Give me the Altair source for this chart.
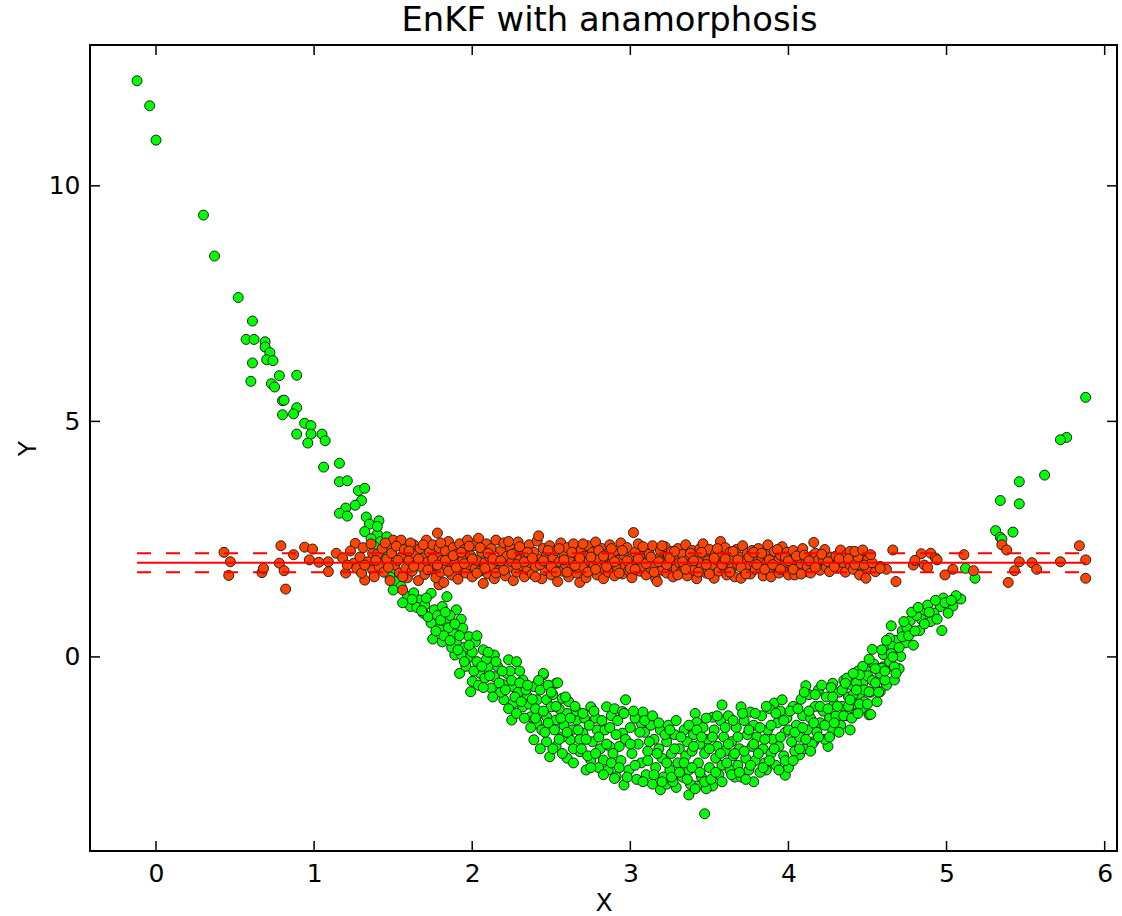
import altair as alt
import pandas as pd

# ---------------- data ----------------
green_tail_left = [
    (-0.12, 12.23), (-0.04, 11.70), (0.00, 10.97), (0.30, 9.38), (0.37, 8.51), (0.52, 7.63),
    (0.61, 7.13), (0.57, 6.74), (0.62, 6.74), (0.69, 6.69), (0.69, 6.58), (0.72, 6.46),
    (0.70, 6.31), (0.74, 6.29), (0.61, 6.24), (0.78, 5.97), (0.89, 5.98), (0.60, 5.85),
    (0.73, 5.80), (0.75, 5.73), (0.80, 5.44), (0.81, 5.45), (0.89, 5.29), (0.87, 5.16),
    (0.80, 5.14), (0.94, 4.96), (0.98, 4.91), (0.98, 4.73), (0.89, 4.73), (1.05, 4.73),
    (1.07, 4.59), (0.96, 4.54), (1.06, 4.03), (1.16, 4.11), (1.16, 3.72), (1.21, 3.74),
    (1.28, 3.53), (1.32, 3.58), (1.30, 3.32), (1.26, 3.22), (1.20, 3.16), (1.16, 3.05),
    (1.21, 2.99), (1.33, 2.97), (1.35, 2.82), (1.41, 2.89), (1.32, 2.66), (1.40, 2.61),
    (1.36, 2.51), (1.40, 2.77), (1.42, 2.45), (1.44, 2.30), (1.47, 2.15), (1.45, 1.95),
    (1.50, 1.85), (1.48, 1.70), (1.52, 1.60), (1.55, 1.50), (1.42, 2.10), (1.38, 2.35),
    (1.46, 2.55),
]

green_descent = [
    (1.50, 1.42), (1.59, 1.28), (1.63, 1.36), (1.61, 1.07), (1.67, 1.21), (1.74, 1.35),
    (1.84, 1.28), (1.69, 0.93), (1.76, 1.00), (1.81, 1.07), (1.90, 1.00), (1.74, 0.72),
    (1.83, 0.75), (1.93, 0.80), (1.75, 0.38), (1.81, 0.32), (1.88, 0.50), (1.94, 0.61),
    (1.90, 0.29), (1.98, 0.43), (2.02, 0.32), (1.89, 0.04), (1.97, -0.03), (2.07, 0.15),
    (2.14, 0.04), (1.92, -0.35), (2.00, -0.52), (1.99, -0.74), (2.05, -0.35), (2.10, -0.21),
    (2.23, -0.06), (2.28, -0.10), (2.14, -0.42), (2.22, -0.35), (2.12, -0.66), (2.20, -0.59),
    (2.26, -0.63), (2.32, -0.49), (2.39, -0.63), (2.45, -0.38), (2.53, -0.56), (2.20, -0.91),
    (2.26, -0.98), (2.32, -1.06), (2.25, -1.34), (2.35, -0.84), (2.41, -0.91), (2.47, -0.91),
    (2.50, -1.06), (2.57, -0.88), (2.37, -1.27), (2.41, -1.41), (2.47, -1.27), (2.53, -1.34),
    (2.60, -1.20), (2.66, -1.34), (2.75, -1.06), (2.85, -1.06), (2.39, -1.76), (2.47, -1.80),
    (2.53, -1.90), (2.62, -1.76), (2.70, -1.62), (2.79, -1.55), (2.49, -2.12), (2.60, -2.15),
    (2.68, -2.01), (2.72, -2.40), (2.83, -2.19), (2.91, -2.54), (2.93, -1.90), (2.95, -1.62),
    (2.87, -1.90), (2.75, -2.19), (2.45, -0.35), (2.54, -0.55),
    (1.56, 1.15), (1.65, 1.05), (1.70, 1.10), (1.72, 0.85), (1.78, 0.88), (1.79, 0.60),
    (1.86, 0.88), (1.85, 0.62), (1.82, 0.45), (1.87, 0.20), (1.95, 0.20), (1.93, 0.05),
    (2.00, 0.10), (1.96, -0.20), (2.03, -0.10), (2.04, -0.60), (2.08, -0.45), (2.09, -0.05),
    (2.16, -0.20), (2.18, -0.75), (2.24, -0.30), (2.29, -0.75), (2.30, -0.30), (2.34, -0.70),
    (2.36, -1.00), (2.40, -1.10), (2.43, -0.70), (2.44, -1.55), (2.48, -0.60), (2.51, -0.80),
    (2.52, -1.55), (2.55, -1.10), (2.57, -1.70), (2.58, -1.45), (2.61, -0.95), (2.63, -1.55),
    (2.64, -1.95), (2.66, -1.15), (2.68, -1.75), (2.71, -1.30), (2.73, -2.10), (2.76, -1.80),
    (2.78, -1.30), (2.80, -2.35), (2.81, -1.95), (2.84, -1.55), (2.86, -2.40), (2.88, -1.25),
    (2.89, -2.05),
    (1.62, 1.22), (1.68, 0.98), (1.71, 1.25), (1.77, 0.55), (1.80, 0.78), (1.83, 0.95),
    (1.86, 0.35), (1.89, 0.70), (1.91, 0.15), (1.92, 0.45), (1.95, -0.10), (1.98, 0.25),
    (2.01, -0.30), (2.03, 0.45), (2.06, -0.20), (2.07, -0.65), (2.10, 0.10), (2.11, -0.40),
    (2.13, -0.85), (2.15, -0.10), (2.17, -0.55), (2.19, -0.30), (2.21, -0.70), (2.23, -1.10),
    (2.25, -0.50), (2.27, -0.85), (2.28, -1.20), (2.30, -0.55), (2.31, -0.95), (2.33, -1.30),
    (2.35, -0.60), (2.37, -1.50), (2.38, -0.90), (2.40, -1.30), (2.42, -0.50), (2.43, -1.95),
    (2.45, -1.15), (2.46, -1.60), (2.48, -1.40), (2.50, -0.75), (2.51, -1.95), (2.53, -1.05),
    (2.55, -1.75), (2.56, -1.30), (2.57, -2.05), (2.59, -0.85), (2.60, -1.60), (2.62, -1.30),
    (2.64, -2.25), (2.65, -1.05), (2.67, -1.55), (2.69, -1.95), (2.70, -1.20), (2.72, -1.75),
    (2.74, -1.45), (2.75, -2.35), (2.77, -1.15), (2.78, -2.05), (2.80, -1.70), (2.82, -1.35),
    (2.83, -2.50), (2.85, -1.85), (2.87, -1.50), (2.88, -2.25), (2.90, -1.10), (2.91, -1.65),
]

green_bottom = [
    (2.97, -0.91), (2.95, -1.16), (3.08, -1.17), (3.07, -1.41), (3.41, -1.20), (3.42, -1.39),
    (3.52, -1.28), (3.58, -1.02), (3.70, -1.06), (3.76, -1.17), (3.91, -0.98), (3.96, -0.91),
    (4.11, -0.61), (4.28, -0.56), (4.36, -0.59), (4.43, -0.42), (4.49, -0.28), (4.60, -0.21),
    (4.66, -0.21), (4.51, -1.23), (4.43, -1.20),
    (2.90, -2.58), (2.96, -2.72), (3.19, -2.82), (3.23, -2.70), (3.29, -2.77), (3.37, -2.93),
    (3.42, -2.74), (3.47, -3.33), (3.52, -2.74), (3.66, -2.55), (3.78, -2.65), (3.98, -2.51),
    (3.86, -2.40), (4.07, -2.08), (4.25, -1.90), (4.16, -1.80),
    (2.92, -1.35), (2.94, -2.20), (2.97, -1.75), (2.99, -2.40), (3.00, -1.50), (3.01, -2.05),
    (3.03, -1.30), (3.04, -2.60), (3.05, -1.85), (3.07, -2.25), (3.09, -1.60), (3.10, -2.50),
    (3.11, -2.00), (3.13, -1.45), (3.14, -2.70), (3.15, -1.75), (3.16, -2.35), (3.18, -1.95),
    (3.19, -1.55), (3.20, -2.15), (3.21, -2.55), (3.23, -1.80), (3.24, -1.45), (3.25, -2.40),
    (3.26, -2.05), (3.27, -2.65), (3.28, -1.65), (3.30, -2.25), (3.31, -1.95), (3.33, -2.55),
    (3.34, -1.55), (3.35, -2.10), (3.36, -1.80), (3.37, -2.40), (3.38, -2.70), (3.39, -2.00),
    (3.40, -1.65), (3.43, -2.25), (3.44, -1.85), (3.45, -2.55), (3.46, -1.50), (3.47, -2.05),
    (3.48, -2.80), (3.49, -1.75), (3.50, -2.35), (3.53, -1.55), (3.54, -2.15), (3.55, -1.90),
    (3.56, -2.50), (3.57, -1.35), (3.58, -2.30), (3.59, -1.70), (3.60, -2.00), (3.62, -1.25),
    (3.63, -2.40), (3.64, -1.80), (3.65, -2.10), (3.67, -1.50), (3.68, -2.30), (3.69, -1.95),
    (3.70, -2.55), (3.72, -1.35), (3.73, -2.15), (3.74, -1.65), (3.75, -2.40), (3.77, -1.90),
    (3.78, -1.45), (3.79, -2.20), (3.80, -1.70), (3.82, -2.45), (3.83, -1.25), (3.84, -1.95),
    (3.85, -2.25), (3.87, -1.55), (3.88, -1.10), (3.89, -2.05), (3.90, -1.75), (3.92, -2.30),
    (3.93, -1.40), (3.94, -1.90), (3.95, -1.15), (3.97, -2.10), (3.98, -1.60), (3.99, -1.30),
    (4.00, -2.35), (4.02, -1.80), (4.03, -1.05), (4.04, -2.00), (4.05, -1.45), (4.07, -1.70),
    (4.08, -0.90), (4.09, -1.25), (4.10, -1.95), (4.12, -1.55), (4.13, -0.80), (4.14, -1.30),
    (4.15, -1.85), (4.17, -1.05), (4.18, -1.60), (4.19, -0.70), (4.20, -1.40), (4.22, -1.15),
    (4.23, -1.75), (4.24, -0.85), (4.26, -1.30), (4.27, -0.65), (4.28, -1.55), (4.29, -1.00),
    (4.30, -1.25), (4.32, -0.75), (4.33, -1.45), (4.34, -1.05), (4.35, -0.50), (4.37, -1.25),
    (4.38, -0.85), (4.39, -1.55), (4.40, -0.60), (4.42, -1.00), (4.44, -0.30), (4.45, -0.80),
    (4.46, -1.10), (4.47, -0.55), (4.48, -0.95), (4.50, -0.40), (4.52, -0.75),
    (2.93, -2.35), (2.96, -1.20), (2.98, -2.55), (3.00, -1.85), (3.02, -1.15), (3.03, -2.30),
    (3.06, -1.60), (3.08, -2.65), (3.09, -1.35), (3.11, -2.20), (3.12, -1.80), (3.14, -1.25),
    (3.15, -2.50), (3.17, -2.05), (3.18, -1.40), (3.20, -2.65), (3.22, -1.65), (3.23, -2.25),
    (3.25, -1.55), (3.26, -2.55), (3.28, -1.95), (3.29, -1.35), (3.31, -2.45), (3.32, -1.70),
    (3.34, -2.25), (3.36, -2.60), (3.37, -1.45), (3.39, -2.35), (3.40, -1.90), (3.41, -2.80),
    (3.42, -1.55), (3.44, -2.45), (3.45, -1.70), (3.47, -2.65), (3.48, -1.30), (3.50, -1.95),
    (3.51, -2.60), (3.52, -1.70), (3.54, -2.45), (3.55, -1.25), (3.57, -2.05), (3.58, -2.65),
    (3.60, -1.50), (3.61, -2.25), (3.62, -1.85), (3.64, -2.50), (3.65, -1.35), (3.66, -2.05),
    (3.68, -1.70), (3.69, -2.45), (3.71, -1.20), (3.72, -2.00), (3.73, -2.60), (3.75, -1.55),
    (3.76, -2.30), (3.78, -1.85), (3.79, -1.20), (3.81, -2.05), (3.82, -1.50), (3.84, -2.35),
    (3.85, -1.75), (3.86, -1.05), (3.88, -2.20), (3.89, -1.45), (3.91, -1.95), (3.92, -1.20),
    (3.94, -2.40), (3.95, -1.70), (3.97, -1.35), (3.98, -2.20), (4.00, -1.55), (4.01, -1.15),
    (4.03, -2.20), (4.04, -1.60), (4.06, -1.10), (4.07, -1.95), (4.09, -1.50), (4.10, -0.75),
    (4.11, -1.75), (4.13, -1.15), (4.14, -2.00), (4.16, -1.40), (4.17, -0.80), (4.19, -1.70),
    (4.20, -1.05), (4.21, -0.60), (4.23, -1.45), (4.25, -1.10), (4.26, -1.70), (4.28, -0.85),
    (4.29, -1.40), (4.31, -1.05), (4.32, -1.60), (4.34, -0.70), (4.35, -1.25), (4.37, -0.45),
    (4.38, -1.05), (4.40, -1.30), (4.41, -0.80), (4.43, -0.55), (4.45, -1.00), (4.47, -0.20),
    (4.48, -0.70), (4.50, -1.00), (4.53, -0.50),
]

green_rise = [
    (4.54, -0.15), (4.55, -0.55), (4.56, -0.95), (4.58, -0.35), (4.60, 0.05), (4.62, -0.60),
    (4.63, 0.25), (4.64, -0.10), (4.68, 0.35), (4.69, 0.10), (4.70, -0.25), (4.72, 0.55),
    (4.74, 0.30),
    (5.09, 1.23), (4.98, 1.25), (5.04, 1.08), (4.96, 1.07), (4.92, 0.93), (5.01, 0.93),
    (4.97, 0.56), (4.84, 0.98), (4.84, 0.80), (4.77, 0.77), (4.83, 0.56), (4.75, 0.61),
    (4.65, 0.66), (4.72, 0.43), (4.79, 0.25), (4.64, 0.40), (4.66, 0.22), (4.71, 0.01),
    (4.65, 0.07), (4.53, 0.16), (4.51, -0.05), (4.59, -0.24), (4.67, -0.21), (4.67, -0.49),
    (4.61, -0.49), (4.58, -0.74), (4.51, -0.74), (4.45, -0.38), (4.41, -0.35), (4.36, -0.56),
    (4.43, -0.70), (4.39, -0.91), (4.52, -1.22), (4.44, -1.20),
    (4.88, 1.10), (4.81, 0.88), (4.90, 0.75), (5.06, 1.30), (4.93, 1.20),
    (4.55, -0.25), (4.57, -0.75), (4.59, 0.15), (4.61, -0.30), (4.62, 0.35), (4.66, 0.00),
    (4.68, -0.35), (4.70, 0.20), (4.73, 0.75), (4.76, 0.45), (4.78, 0.95), (4.80, 0.55),
    (4.82, 1.05), (4.86, 0.70), (4.89, 0.95), (4.94, 0.80), (4.99, 1.15), (5.03, 1.20),
    (5.88, 5.51), (5.76, 4.66), (5.72, 4.61), (5.62, 3.86), (5.46, 3.72), (5.46, 3.25),
    (5.34, 3.32), (5.31, 2.68), (5.42, 2.65), (5.34, 2.54), (5.35, 2.50), (5.12, 1.88),
    (5.18, 1.67),
]

red_tail_left = [
    (0.43, 2.22), (0.47, 2.02), (0.46, 1.73), (0.67, 1.79), (0.68, 1.88), (0.79, 2.36),
    (0.78, 1.99), (0.81, 1.83), (0.82, 1.44), (0.87, 2.17), (0.94, 2.33), (0.99, 2.29),
    (0.97, 2.06), (1.03, 2.01), (1.09, 2.02), (1.14, 2.20), (1.09, 1.81), (1.20, 1.78),
    (1.26, 2.41), (1.25, 1.99), (1.32, 1.63), (1.37, 1.85), (1.37, 2.20), (1.44, 1.99),
    (1.50, 2.48), (1.56, 1.42), (1.48, 2.30), (1.63, 1.99), (1.78, 2.63), (1.79, 1.53),
    (1.55, 2.48), (1.63, 2.38),
]

red_band = [
    (1.18, 2.10), (1.21, 1.95), (1.23, 2.25), (1.27, 1.88), (1.29, 2.12), (1.31, 2.32), (1.30, 1.78),
    (1.34, 2.02), (1.36, 2.40), (1.38, 1.70), (1.40, 2.18), (1.41, 1.92), (1.43, 2.30), (1.44, 1.80),
    (1.46, 2.08), (1.48, 1.62), (1.49, 2.20), (1.51, 1.95), (1.52, 2.35), (1.54, 1.78), (1.55, 2.12),
    (1.57, 2.28), (1.58, 1.88), (1.60, 2.05), (1.59, 1.68), (1.61, 2.42), (1.62, 1.82), (1.64, 2.18),
    (1.65, 1.98), (1.66, 1.62), (1.67, 2.30), (1.68, 1.90), (1.69, 2.10), (1.70, 1.75), (1.71, 2.48),
    (1.72, 2.02), (1.73, 2.22), (1.74, 1.85), (1.75, 2.38), (1.76, 1.95), (1.77, 1.68), (1.78, 2.15),
    (1.79, 2.32), (1.80, 1.80), (1.81, 2.05), (1.82, 1.58), (1.83, 2.25), (1.84, 1.92), (1.85, 2.45),
    (1.86, 2.10), (1.87, 1.74), (1.88, 2.32), (1.89, 1.98), (1.90, 2.18), (1.91, 1.65), (1.92, 2.40),
    (1.93, 1.86), (1.94, 2.06), (1.95, 2.28), (1.96, 1.78), (1.97, 2.48), (1.98, 1.96), (1.99, 2.15),
    (2.00, 1.70), (2.01, 2.36), (2.02, 1.88), (2.03, 2.05), (2.04, 2.52), (2.05, 1.82), (2.06, 2.22),
    (2.07, 1.56), (2.08, 2.00), (2.09, 2.40), (2.10, 1.76), (2.11, 2.12), (2.12, 2.30), (2.13, 1.92),
    (2.14, 1.66), (2.15, 2.48), (2.16, 2.04), (2.17, 1.84), (2.18, 2.26), (2.19, 1.98), (2.20, 2.42),
    (2.21, 1.72), (2.22, 2.14), (2.23, 1.90), (2.24, 2.34), (2.25, 2.02), (2.26, 1.62), (2.27, 2.20),
    (2.28, 1.80), (2.29, 2.44), (2.30, 2.06), (2.31, 1.94), (2.32, 2.28), (2.33, 1.70), (2.34, 2.12),
    (2.35, 1.86), (2.36, 2.38), (2.37, 2.00), (2.38, 1.76), (2.39, 2.22), (2.40, 1.92), (2.41, 2.46),
    (2.42, 2.57), (2.43, 2.08), (2.44, 1.66), (2.45, 2.30), (2.46, 1.84), (2.47, 2.16), (2.48, 1.98),
    (2.49, 2.36), (2.50, 1.74), (2.51, 2.10), (2.52, 1.90), (2.53, 2.26), (2.54, 1.60), (2.55, 2.02),
    (2.56, 2.42), (2.57, 1.82), (2.58, 2.18), (2.59, 1.96), (2.60, 2.32), (2.61, 1.70), (2.62, 2.08),
    (2.63, 1.88), (2.64, 2.40), (2.65, 2.20), (2.66, 1.78), (2.67, 2.00), (2.68, 1.58), (2.69, 2.28),
    (2.70, 1.92), (2.71, 2.14), (2.72, 1.68), (2.73, 2.36), (2.74, 2.04), (2.75, 1.84), (2.76, 2.22),
    (2.77, 1.96), (2.78, 2.44), (2.79, 1.74), (2.80, 2.10), (2.81, 1.90), (2.82, 2.30), (2.83, 1.66),
    (2.84, 2.02), (2.85, 2.18), (2.86, 1.80), (2.87, 2.38), (2.88, 1.98), (2.89, 2.12), (2.90, 1.72),
    (2.91, 2.26), (2.92, 1.88), (2.93, 2.06), (2.94, 2.42), (2.95, 1.76), (2.96, 2.16), (2.97, 1.94),
    (2.98, 2.32), (2.99, 1.84), (3.00, 2.08), (3.02, 2.64), (3.01, 1.68), (3.03, 2.22), (3.04, 1.98),
    (3.05, 2.40), (3.06, 1.82), (3.07, 2.12), (3.08, 1.92), (3.09, 2.28), (3.10, 1.74), (3.11, 2.04),
    (3.12, 2.18), (3.13, 1.88), (3.14, 2.36), (3.15, 1.96), (3.16, 1.66), (3.17, 1.60), (3.18, 2.10),
    (3.19, 2.26), (3.20, 1.84), (3.21, 2.02), (3.22, 2.34), (3.23, 1.78), (3.24, 2.14), (3.25, 1.94),
    (3.26, 2.24), (3.27, 1.70), (3.28, 2.06), (3.29, 1.88), (3.30, 2.30), (3.31, 2.00), (3.32, 1.80),
    (3.33, 2.18), (3.34, 1.92), (3.35, 2.38), (3.36, 1.72), (3.37, 2.08), (3.38, 1.98), (3.39, 2.26),
    (3.40, 1.84), (3.41, 2.12), (3.42, 1.66), (3.43, 2.02), (3.44, 2.30), (3.46, 2.40), (3.45, 1.90),
    (3.47, 2.16), (3.48, 1.78), (3.49, 2.04), (3.50, 2.28), (3.51, 1.86), (3.52, 1.96), (3.53, 1.67),
    (3.54, 2.20), (3.55, 2.06), (3.57, 2.45), (3.56, 1.82), (3.58, 2.14), (3.59, 1.92), (3.60, 2.32),
    (3.61, 1.74), (3.62, 2.02), (3.63, 2.22), (3.64, 1.88), (3.65, 2.10), (3.66, 1.70), (3.67, 2.28),
    (3.68, 1.96), (3.69, 2.12), (3.70, 1.67), (3.71, 2.36), (3.72, 1.84), (3.73, 2.04), (3.74, 2.20),
    (3.75, 1.94), (3.76, 1.76), (3.77, 2.26), (3.78, 2.00), (3.79, 1.86), (3.80, 2.14), (3.81, 2.30),
    (3.82, 1.90), (3.83, 2.06), (3.84, 1.72), (3.85, 2.18), (3.86, 1.98), (3.87, 2.38), (3.88, 1.82),
    (3.89, 1.70), (3.90, 2.10), (3.91, 2.24), (3.92, 1.92), (3.93, 2.04), (3.94, 1.78), (3.95, 2.16),
    (3.96, 2.34), (3.97, 1.88), (3.98, 2.00), (3.99, 2.22), (4.00, 1.74), (4.01, 2.10), (4.02, 1.94),
    (4.03, 2.26), (4.04, 1.74), (4.05, 2.02), (4.06, 1.86), (4.07, 2.18), (4.08, 1.98), (4.09, 2.30),
    (4.10, 1.80), (4.11, 2.08), (4.12, 1.92), (4.14, 1.78), (4.15, 2.14), (4.16, 2.43), (4.17, 2.20),
    (4.18, 1.96), (4.19, 2.06), (4.20, 1.84), (4.22, 2.07), (4.23, 2.28), (4.24, 1.90), (4.26, 1.81),
    (4.27, 2.12), (4.28, 1.98), (4.30, 2.14), (4.31, 1.88), (4.33, 2.27), (4.34, 2.02), (4.35, 1.99),
    (4.36, 1.80), (4.37, 2.18), (4.39, 2.24), (4.39, 1.95), (4.40, 2.08), (4.41, 1.86), (4.43, 2.00),
    (4.46, 2.17), (4.46, 1.77), (4.50, 2.06), (4.50, 1.85), (4.55, 1.81), (4.58, 1.92),
    (1.32, 1.95), (1.39, 2.05), (1.45, 2.42), (1.47, 1.90), (1.53, 2.05), (1.56, 1.70), (1.60, 2.25),
    (1.63, 1.92), (1.66, 2.08), (1.69, 2.38), (1.72, 1.85), (1.75, 2.08), (1.78, 1.95), (1.80, 2.42),
    (1.83, 2.05), (1.85, 1.82), (1.88, 2.15), (1.90, 1.90), (1.93, 2.22), (1.95, 1.98), (1.98, 2.35),
    (2.00, 2.08), (2.03, 1.78), (2.05, 2.32), (2.08, 1.88), (2.10, 2.20), (2.13, 2.08), (2.15, 1.78),
    (2.18, 2.04), (2.20, 1.84), (2.23, 2.45), (2.25, 2.18), (2.28, 1.96), (2.30, 2.34), (2.33, 2.02),
    (2.35, 2.22), (2.38, 2.10), (2.40, 1.70), (2.43, 1.96), (2.45, 2.04), (2.48, 2.26), (2.50, 1.92),
    (2.53, 1.80), (2.55, 2.30), (2.58, 2.06), (2.60, 1.80), (2.63, 2.22), (2.65, 1.94), (2.68, 2.10),
    (2.70, 2.40), (2.73, 1.80), (2.75, 2.12), (2.78, 1.86), (2.80, 2.26), (2.83, 2.14), (2.85, 1.92),
    (2.88, 2.30), (2.90, 2.02), (2.93, 1.78), (2.95, 2.26), (2.98, 2.04), (3.00, 1.88), (3.03, 1.86),
    (3.05, 2.08), (3.08, 2.34), (3.10, 1.98), (3.13, 2.12), (3.15, 1.80), (3.18, 2.02), (3.20, 2.36),
    (3.23, 1.96), (3.25, 2.10), (3.28, 2.24), (3.30, 1.74), (3.33, 2.02), (3.35, 1.86), (3.38, 2.20),
    (3.40, 2.04), (3.43, 1.80), (3.45, 2.22), (3.48, 1.96), (3.50, 1.76), (3.53, 2.10), (3.55, 2.30),
    (3.58, 1.96), (3.60, 2.08), (3.63, 1.80), (3.65, 2.24), (3.68, 2.06), (3.70, 1.90), (3.73, 1.76),
    (3.75, 2.12), (3.78, 2.22), (3.80, 1.96), (3.83, 2.20), (3.85, 1.86), (3.88, 2.06), (3.90, 1.96),
    (3.93, 2.28), (3.95, 1.86), (3.98, 2.12), (4.00, 2.04), (4.03, 1.86), (4.05, 2.14), (4.08, 1.76),
    (4.10, 2.16), (4.13, 2.04), (4.17, 1.90), (4.21, 2.18), (4.25, 2.02), (4.29, 1.92), (4.32, 2.08),
    (4.38, 2.08), (4.42, 1.96), (4.44, 2.12), (4.48, 1.95), (4.53, 2.00),
]

red_tail_right = [
    (4.42, 2.24), (4.47, 2.27), (4.52, 2.17), (4.66, 2.27), (4.84, 2.19), (4.90, 2.20),
    (4.93, 2.10), (4.79, 1.95), (4.86, 1.95), (4.94, 2.06), (4.68, 1.60), (4.62, 1.86),
    (4.58, 1.88), (4.45, 1.74), (4.49, 1.67), (5.11, 2.17), (5.04, 1.86), (4.99, 1.74),
    (5.17, 1.83), (5.35, 2.38), (5.38, 2.27), (5.46, 2.02), (5.43, 1.83), (5.39, 1.58),
    (5.54, 2.00), (5.57, 1.86), (5.72, 2.02), (5.84, 2.36), (5.88, 2.06), (5.88, 1.67),
    (4.80, 2.05), (4.88, 1.90),
]

line_mean = 2.0
line_band = [1.8, 2.2]
line_x_range = [-0.12, 5.88]

x_ticks = [0, 1, 2, 3, 4, 5, 6]
y_ticks = [0, 5, 10]

X_DOMAIN = [-0.4175, 6.078]
Y_DOMAIN = [-4.12, 12.99]
W, H = 1027, 806
FONT = "DejaVu Sans"

# ---------------- frames ----------------
green_df = pd.DataFrame(green_tail_left + green_descent + green_bottom + green_rise, columns=["x", "y"])
red_df = pd.DataFrame(red_tail_left + red_band + red_tail_right, columns=["x", "y"])
mean_df = pd.DataFrame({"x": [line_x_range[0]], "x2": [line_x_range[1]], "y": [line_mean]})
band_df = pd.DataFrame({"x": [line_x_range[0]] * 2, "x2": [line_x_range[1]] * 2, "y": line_band})
xt_df = pd.DataFrame({"x": x_ticks})
yt_df = pd.DataFrame({"y": y_ticks})

xs = alt.Scale(domain=X_DOMAIN, nice=False, zero=False)
ys = alt.Scale(domain=Y_DOMAIN, nice=False, zero=False)

x_axis = alt.Axis(values=x_ticks, title="X", grid=False, ticks=False, domain=False,
                  labelFontSize=25, titleFontSize=25, labelFont=FONT, titleFont=FONT,
                  labelColor="black", titleColor="black", titleFontWeight="normal",
                  labelBaseline="alphabetic", labelPadding=30,
                  titleBaseline="alphabetic", titleY=59, labelFlush=False)
y_axis = alt.Axis(values=y_ticks, title="Y", grid=False, ticks=False, domain=False,
                  labelFontSize=25, titleFontSize=25, labelFont=FONT, titleFont=FONT,
                  labelColor="black", titleColor="black", titleFontWeight="normal",
                  labelPadding=10, labelBaseline="middle",
                  titleBaseline="alphabetic", titleX=-55, titleAngle=270, labelFlush=False)


def X(field="x"):
    return alt.X(f"{field}:Q", scale=xs, axis=x_axis)


def Y(field="y"):
    return alt.Y(f"{field}:Q", scale=ys, axis=y_axis)


PT = 100
green_layer = alt.Chart(green_df).mark_circle(
    size=PT, color="#00ff00", opacity=1, stroke="#202020", strokeWidth=1
).encode(x=X(), y=Y())

red_layer = alt.Chart(red_df).mark_circle(
    size=PT, color="#ff4500", opacity=1, stroke="#202020", strokeWidth=1
).encode(x=X(), y=Y())

mean_layer = alt.Chart(mean_df).mark_rule(color="#ff0000", strokeWidth=2).encode(
    x=X(), x2="x2:Q", y=Y()
)
band_layer = alt.Chart(band_df).mark_rule(color="#ff0000", strokeWidth=2, strokeDash=[14, 15]).encode(
    x=X(), x2="x2:Q", y=Y()
)

tick_style = dict(color="black", strokeWidth=1.5)
xt_bottom = alt.Chart(xt_df).mark_rule(**tick_style).encode(x=X(), y=alt.value(H), y2=alt.value(H - 10))
xt_top = alt.Chart(xt_df).mark_rule(**tick_style).encode(x=X(), y=alt.value(0), y2=alt.value(10))
yt_left = alt.Chart(yt_df).mark_rule(**tick_style).encode(y=Y(), x=alt.value(0), x2=alt.value(10))
yt_right = alt.Chart(yt_df).mark_rule(**tick_style).encode(y=Y(), x=alt.value(W), x2=alt.value(W - 10))

chart = alt.layer(
    green_layer, red_layer, band_layer, mean_layer, xt_bottom, xt_top, yt_left, yt_right
).properties(
    width=W,
    height=H,
    title=alt.TitleParams("EnKF with anamorphosis", fontSize=33.8, font=FONT, fontWeight="normal",
                          color="black", anchor="middle", baseline="alphabetic", offset=12, dy=33, dx=6),
    padding={"left": 90, "top": 45, "right": 5, "bottom": 65},
    autosize="none",
    background="white",
).configure_view(stroke="black", strokeWidth=2)

chart.save("out.html", embed_options={"renderer": "svg", "actions": False})
